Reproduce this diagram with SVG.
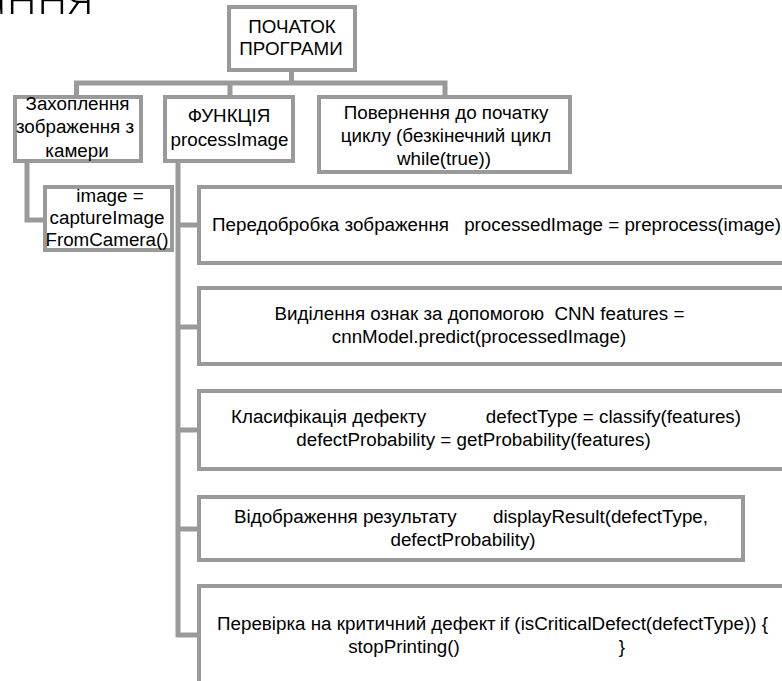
<svg xmlns="http://www.w3.org/2000/svg" width="782" height="681" viewBox="0 0 782 681">
<style>
.box{fill:#fff;stroke:#9a9a9a;stroke-width:4}
.conn{fill:none;stroke:#9a9a9a;stroke-width:5;stroke-linejoin:miter}
text{font-family:"Liberation Sans",Arial,sans-serif;font-size:18.8px;fill:#000;text-anchor:middle;white-space:pre}
.s{text-anchor:start}
.e{text-anchor:end}
.title{font-family:"Open Sans","DejaVu Sans",sans-serif;font-size:50px;font-weight:300;text-anchor:end}
</style>
<rect width="782" height="681" fill="#fff"/>
<text class="title" x="94" y="14">ання</text>
<g id="connectors">
<path class="conn" d="M291.5 72V83M74 83H447.5M76.5 83V95M230 83V95M445 83V95"/>
<path class="conn" d="M27 163V220H43"/>
<path class="conn" d="M178 163V637.5M178 225H197M178 327H197M178 430H197M178 529H197M178 635H197"/>
</g>
<g id="start">
<rect class="box" x="229" y="7" width="126" height="63"/>
<text x="292"><tspan x="292" y="33">ПОЧАТОК</tspan><tspan x="291" y="55">ПРОГРАМИ</tspan></text>
</g>
<g id="capture">
<rect class="box" x="15" y="97" width="126" height="64"/>
<text><tspan x="77.5" y="110">Захоплення</tspan><tspan x="75" y="133">зображення з</tspan><tspan x="77" y="157">камери</tspan></text>
</g>
<g id="function">
<rect class="box" x="165" y="97" width="128" height="64"/>
<text><tspan x="229" y="122">ФУНКЦІЯ</tspan><tspan x="229.5" y="146">processImage</tspan></text>
</g>
<g id="loop">
<rect class="box" x="319" y="97" width="251" height="75"/>
<text><tspan x="446" y="119">Повернення до початку</tspan><tspan x="446" y="142">циклу (безкінечний цикл</tspan><tspan x="444" y="165">while(true))</tspan></text>
</g>
<g id="image">
<rect class="box" x="45" y="187" width="127" height="63"/>
<text><tspan x="110" y="202">image =</tspan><tspan x="107" y="224">captureImage</tspan><tspan x="107" y="246">FromCamera()</tspan></text>
</g>
<g id="preprocess">
<rect class="box" x="199" y="187" width="600" height="76"/>
<text><tspan class="s" x="212" y="231">Передобробка зображення</tspan><tspan class="e" x="781" y="231">processedImage = preprocess(image)</tspan></text>
</g>
<g id="features">
<rect class="box" x="199" y="288" width="600" height="76"/>
<text><tspan x="479.5" y="320">Виділення ознак за допомогою  CNN features =</tspan><tspan x="479" y="343">cnnModel.predict(processedImage)</tspan></text>
</g>
<g id="classify">
<rect class="box" x="199" y="391" width="600" height="78"/>
<text><tspan class="s" x="231" y="423">Класифікація дефекту</tspan><tspan class="e" x="741" y="423">defectType = classify(features)</tspan><tspan x="473.5" y="446">defectProbability = getProbability(features)</tspan></text>
</g>
<g id="display">
<rect class="box" x="199" y="497" width="544" height="63"/>
<text><tspan class="s" x="234" y="523">Відображення результату</tspan><tspan class="e" x="708" y="523">displayResult(defectType,</tspan><tspan x="463" y="546">defectProbability)</tspan></text>
</g>
<g id="critical">
<rect class="box" x="199" y="586" width="600" height="120"/>
<text><tspan class="s" x="217" y="630">Перевірка на критичний дефект</tspan><tspan class="e" x="768" y="630">if (isCriticalDefect(defectType)) {</tspan><tspan x="404" y="653">stopPrinting()</tspan><tspan x="622" y="653">}</tspan></text>
</g>
</svg>
